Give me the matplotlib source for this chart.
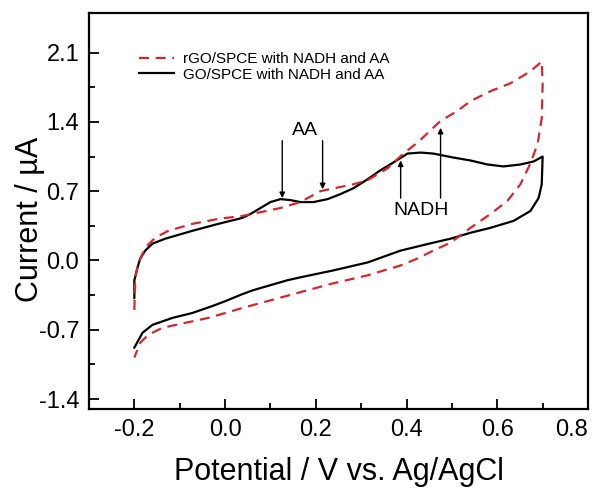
import matplotlib
matplotlib.use('Agg')
import matplotlib.pyplot as plt

plt.rcParams['font.family'] = ['Liberation Sans', 'DejaVu Sans']

# GO/SPCE 正向扫描 (电位 V, 电流 µA)
go_fwd_x = [-0.200, -0.200, -0.193, -0.187, -0.176, -0.160, -0.132, -0.072, -0.015, 0.038,
            0.056, 0.078, 0.100, 0.122, 0.144, 0.166, 0.195, 0.226, 0.254, 0.283,
            0.314, 0.342, 0.371, 0.402, 0.431, 0.459, 0.503, 0.541, 0.578, 0.614,
            0.651, 0.680, 0.700]
go_fwd_y = [-0.38, -0.20, -0.07, 0.02, 0.10, 0.17, 0.22, 0.30, 0.37, 0.43,
            0.47, 0.53, 0.59, 0.62, 0.61, 0.59, 0.59, 0.62, 0.67, 0.73,
            0.82, 0.91, 0.99, 1.08, 1.09, 1.08, 1.04, 1.01, 0.97, 0.95,
            0.97, 1.00, 1.05]
# GO/SPCE 反向扫描
go_rev_x = [0.700, 0.698, 0.691, 0.673, 0.636, 0.585, 0.541, 0.497, 0.459, 0.387,
            0.314, 0.239, 0.166, 0.137, 0.062, 0.038, 0.001, -0.028, -0.072, -0.116,
            -0.160, -0.182, -0.200]
go_rev_y = [1.05, 0.77, 0.63, 0.50, 0.40, 0.33, 0.28, 0.22, 0.18, 0.10,
            -0.02, -0.10, -0.17, -0.20, -0.30, -0.34, -0.41, -0.46, -0.53, -0.58,
            -0.65, -0.73, -0.88]

# rGO/SPCE 正向扫描
rgo_fwd_x = [-0.200, -0.198, -0.191, -0.176, -0.154, -0.125, -0.072, -0.015, 0.038, 0.122,
             0.166, 0.210, 0.283, 0.314, 0.358, 0.393, 0.424, 0.475, 0.512, 0.541,
             0.585, 0.629, 0.673, 0.698]
rgo_fwd_y = [-0.50, -0.17, -0.03, 0.13, 0.23, 0.30, 0.37, 0.42, 0.45, 0.53,
             0.59, 0.70, 0.77, 0.81, 0.93, 1.08, 1.19, 1.41, 1.51, 1.61,
             1.71, 1.79, 1.91, 2.01]
# rGO/SPCE 反向扫描
rgo_rev_x = [0.698, 0.700, 0.698, 0.689, 0.673, 0.651, 0.622, 0.585, 0.541, 0.497,
             0.459, 0.424, 0.387, 0.314, 0.239, 0.166, 0.062, 0.038, 0.001, -0.037,
             -0.088, -0.138, -0.169, -0.187, -0.200]
rgo_rev_y = [2.01, 1.78, 1.44, 1.18, 0.98, 0.77, 0.60, 0.47, 0.33, 0.18,
             0.10, 0.02, -0.05, -0.15, -0.23, -0.32, -0.45, -0.48, -0.53, -0.58,
             -0.63, -0.68, -0.75, -0.83, -0.98]

x_ticks = [-0.2, 0.0, 0.2, 0.4, 0.6, 0.8]
y_ticks = [-1.4, -0.7, 0.0, 0.7, 1.4, 2.1]

red = '#d7262b'

fig = plt.figure(figsize=(5.96, 4.88), dpi=100)
ax = fig.add_axes([0.1493, 0.1619, 0.8373, 0.8115])

ax.plot(go_fwd_x + go_rev_x, go_fwd_y + go_rev_y, color='black', lw=1.6,
        label='GO/SPCE with NADH and AA', zorder=2)
ax.plot(rgo_fwd_x + rgo_rev_x, rgo_fwd_y + rgo_rev_y, color=red, lw=1.6,
        dashes=(4.5, 3), label='rGO/SPCE with NADH and AA', zorder=3)

ax.set_xlim(-0.3, 0.8)
ax.set_ylim(-1.5, 2.5)
ax.set_xticks(x_ticks)
ax.set_xticklabels(['-0.2', '0.0', '0.2', '0.4', '0.6', '0.8'])
ax.set_yticks(y_ticks)
ax.set_yticklabels(['-1.4', '-0.7', '0.0', '0.7', '1.4', '2.1'])
ax.set_xticks([-0.3, -0.1, 0.1, 0.3, 0.5, 0.7], minor=True)
ax.set_yticks([-1.05, -0.35, 0.35, 1.05, 1.75], minor=True)
ax.tick_params(which='major', direction='in', length=7, width=1.3, labelsize=17, pad=7)
ax.tick_params(which='minor', direction='in', length=4, width=1.3)
ax.get_xticklabels()[-1].set_horizontalalignment('right')
for s in ax.spines.values():
    s.set_linewidth(1.6)

# 注释箭头
arrow = dict(arrowstyle='-|>', color='black', lw=1.0, mutation_scale=8, shrinkA=0, shrinkB=0)
ax.annotate('', xy=(0.126, 0.63), xytext=(0.126, 1.21), arrowprops=arrow)
ax.annotate('', xy=(0.215, 0.72), xytext=(0.215, 1.21), arrowprops=arrow)
ax.text(0.175, 1.31, 'AA', fontsize=14, ha='center', va='center')
ax.annotate('', xy=(0.387, 1.01), xytext=(0.387, 0.63), arrowprops=arrow)
ax.annotate('', xy=(0.475, 1.34), xytext=(0.475, 0.63), arrowprops=arrow)
ax.text(0.433, 0.50, 'NADH', fontsize=14, ha='center', va='center')

h, l = ax.get_legend_handles_labels()
ax.legend(h[::-1], l[::-1], loc='upper left', bbox_to_anchor=(0.085, 0.92),
          frameon=False, fontsize=11, handlelength=2.3, handletextpad=0.55,
          labelspacing=0.1, borderpad=0)

fig.text(339 / 596, 0.016, 'Potential / V vs. Ag/AgCl', fontsize=22,
         ha='center', va='baseline')
fig.text(30 / 596, 1 - 219 / 488, 'Current / µA', fontsize=22,
         ha='center', va='center', rotation=90)

fig.savefig('out.png', dpi=100)
